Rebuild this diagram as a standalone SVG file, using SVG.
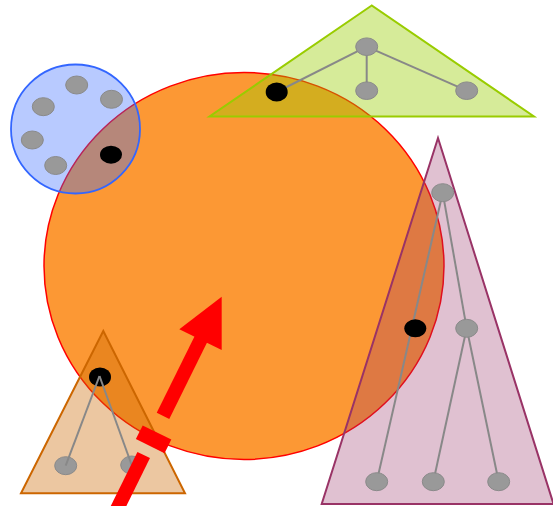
<svg xmlns="http://www.w3.org/2000/svg" width="553" height="506" viewBox="0 0 553 506">
<style>
.g{fill:#999999;stroke:#8a8a8a;stroke-width:1}
.b{fill:#000000}
.e{stroke:#888888;stroke-width:2;fill:none}
.arr{fill:#ff0000;stroke:none}
.arrl{stroke:#ff0000;fill:none;stroke-linecap:butt}
</style>
<rect width="553" height="506" fill="#ffffff"/>
<g id="big-circle">
<ellipse cx="244" cy="266" rx="200" ry="193.5" fill="#fc9834" stroke="#ff0000" stroke-width="1.5"/>
</g>
<g id="blue-group">
<circle cx="75.5" cy="129" r="64.5" fill="#3366ff" fill-opacity="0.35" stroke="#3366ff" stroke-width="1.8"/>
<ellipse class="g" cx="76.7" cy="85" rx="11" ry="9"/>
<ellipse class="g" cx="111.5" cy="99.3" rx="11" ry="9"/>
<ellipse class="g" cx="43.3" cy="106.7" rx="11" ry="9"/>
<ellipse class="g" cx="32.3" cy="140" rx="11" ry="9"/>
<ellipse class="g" cx="55.7" cy="165.5" rx="11" ry="9"/>
<ellipse class="b" cx="111" cy="154.7" rx="11" ry="9"/>
</g>
<g id="green-group">
<polygon points="371.7,5.5 209.5,116.5 534,116.5" fill="#99cc00" fill-opacity="0.4" stroke="#99cc00" stroke-width="2"/>
<g class="connectors">
<line class="e" x1="366.7" y1="46.7" x2="276.7" y2="92"/>
<line class="e" x1="366.7" y1="46.7" x2="366.7" y2="90.7"/>
<line class="e" x1="366.7" y1="46.7" x2="466.7" y2="90.7"/>
</g>
<ellipse class="g" cx="366.7" cy="46.7" rx="11" ry="8.8"/>
<ellipse class="b" cx="276.7" cy="92" rx="11" ry="9.5"/>
<ellipse class="g" cx="366.7" cy="90.7" rx="11" ry="8.8"/>
<ellipse class="g" cx="466.7" cy="90.7" rx="11" ry="8.8"/>
</g>
<g id="purple-group">
<polygon points="438,138 321.7,504 553.5,504" fill="#993366" fill-opacity="0.3" stroke="#993366" stroke-width="2"/>
<g class="connectors">
<line class="e" x1="442.7" y1="192.7" x2="376.7" y2="481.7"/>
<line class="e" x1="442.7" y1="192.7" x2="466.7" y2="328.3"/>
<line class="e" x1="466.7" y1="328.3" x2="433.3" y2="481.7"/>
<line class="e" x1="466.7" y1="328.3" x2="498.7" y2="481.7"/>
</g>
<ellipse class="g" cx="442.7" cy="192.7" rx="11" ry="9"/>
<ellipse class="b" cx="415.3" cy="328.3" rx="11" ry="9"/>
<ellipse class="g" cx="466.7" cy="328.3" rx="11" ry="9"/>
<ellipse class="g" cx="376.7" cy="481.7" rx="11" ry="9"/>
<ellipse class="g" cx="433.3" cy="481.7" rx="11" ry="9"/>
<ellipse class="g" cx="498.7" cy="481.7" rx="11" ry="9"/>
</g>
<g id="small-triangle-group">
<polygon points="103.3,331 21,493.3 185,493.3" fill="#cc6600" fill-opacity="0.37" stroke="#cc6600" stroke-width="2"/>
<ellipse class="g" cx="65.7" cy="465.7" rx="11" ry="9"/>
<ellipse class="g" cx="131.7" cy="465" rx="11" ry="9"/>
<ellipse class="b" cx="100" cy="377" rx="11" ry="9.5"/>
<g class="connectors">
<line class="e" x1="99.5" y1="376" x2="65.7" y2="465.7"/>
<line class="e" x1="99.5" y1="376" x2="131.7" y2="465"/>
</g>
</g>
<g id="arrow">
<polygon class="arr" points="221.7,296.7 179.3,329.3 221.7,350"/>
<line class="arrl" stroke-width="14" x1="201.5" y1="338" x2="163" y2="415.8"/>
<line class="arrl" stroke-width="32" x1="157" y1="432.5" x2="150.2" y2="446.2"/>
<line class="arrl" stroke-width="14" x1="143.7" y1="455" x2="115.6" y2="512"/>
</g>
</svg>
